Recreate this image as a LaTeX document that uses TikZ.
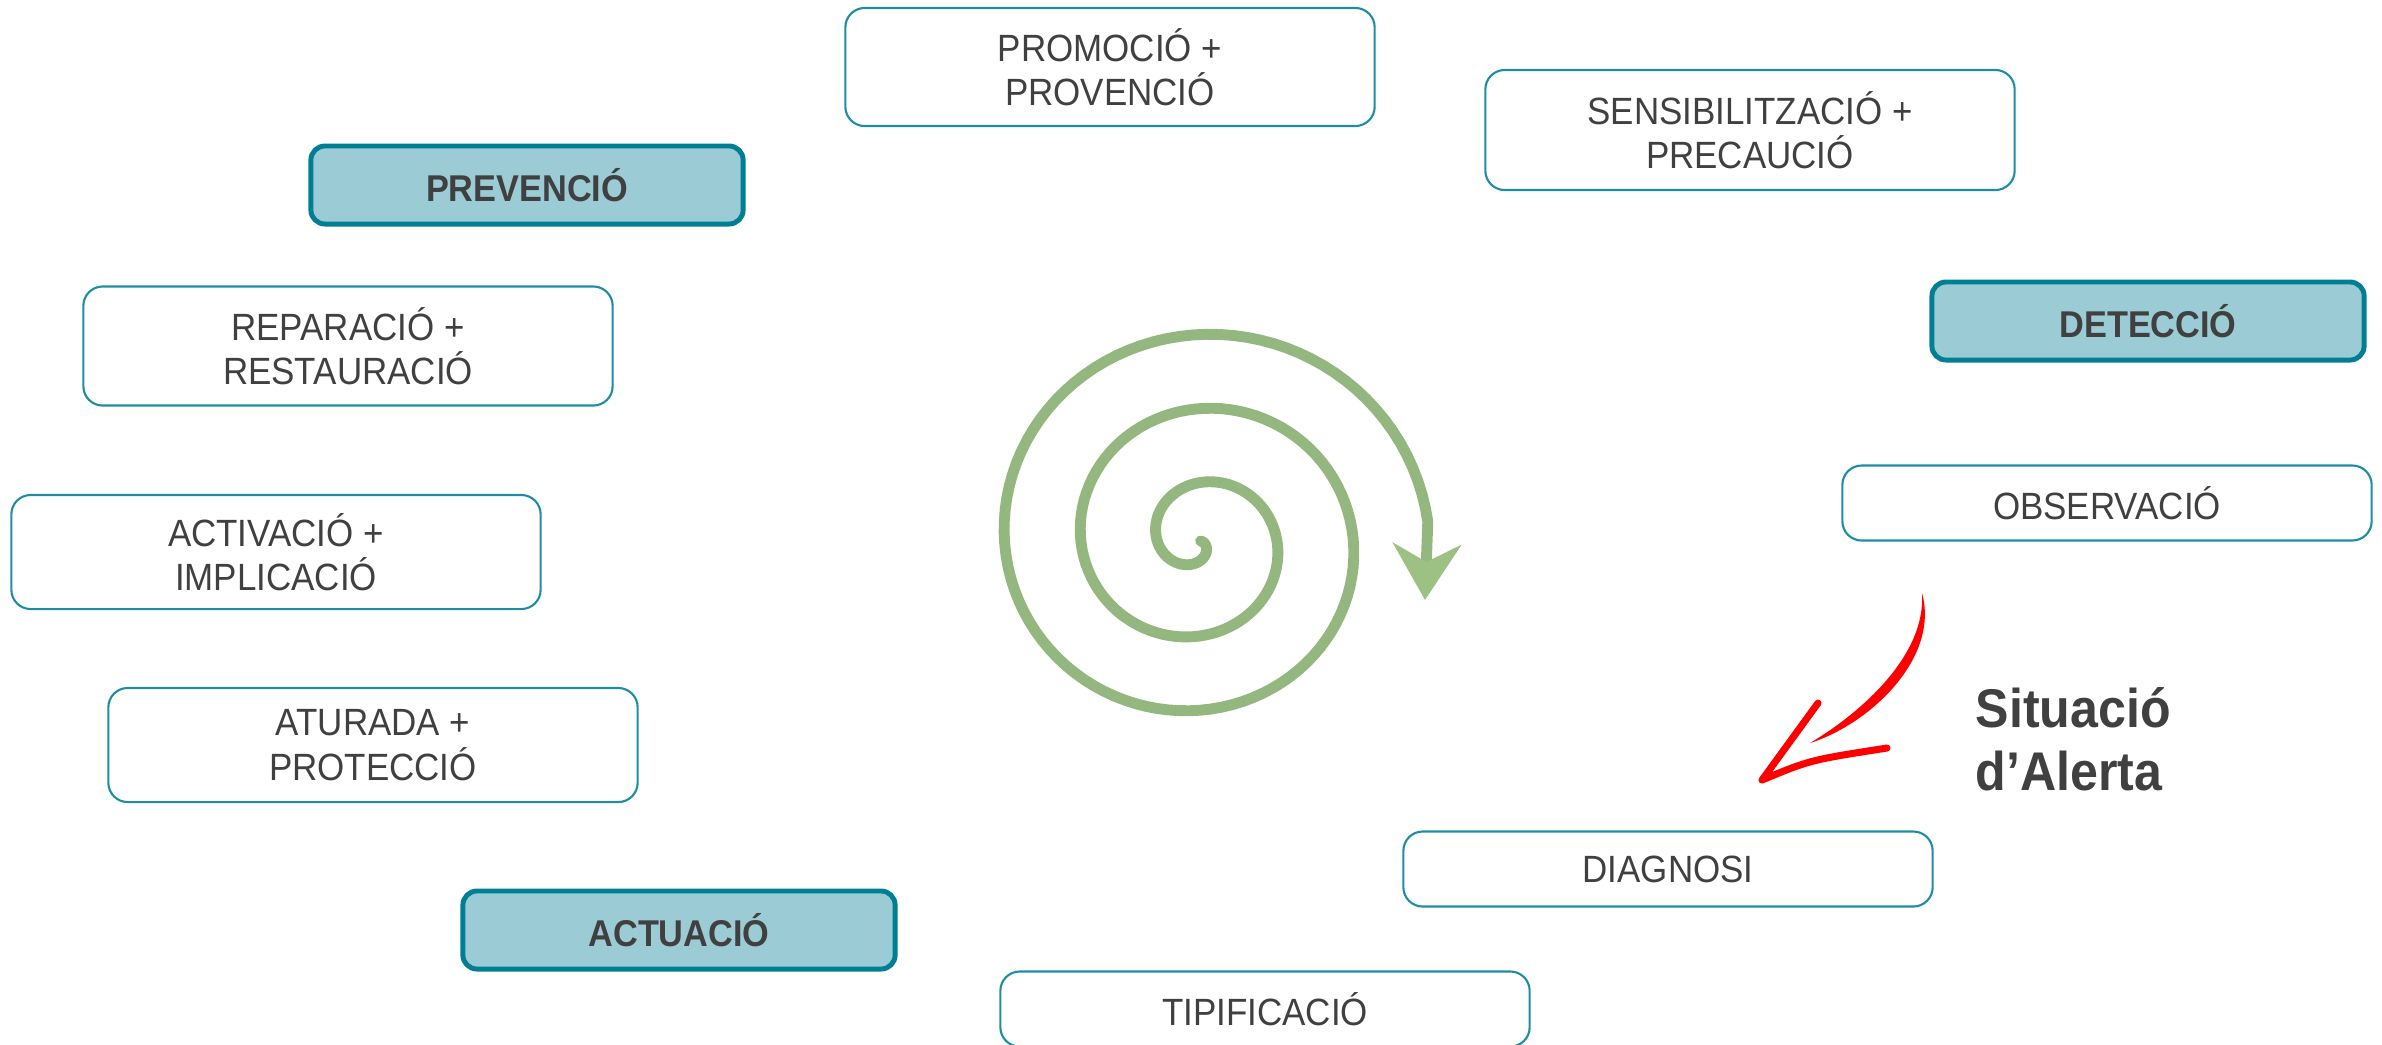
\documentclass[tikz,border=0pt]{standalone}
\usepackage{fontspec}
\setmainfont{Liberation Sans}[FakeStretch=0.92]
\usetikzlibrary{arrows.meta}

\definecolor{textgray}{RGB}{64,64,64}
\definecolor{boxline}{RGB}{30,140,165}
\definecolor{headfill}{RGB}{155,203,212}
\definecolor{headline}{RGB}{0,126,148}
\definecolor{spiralgreen}{RGB}{147,183,127}
\definecolor{tipgreen}{RGB}{157,193,131}
\definecolor{alertred}{RGB}{255,0,0}

\begin{document}
\begin{tikzpicture}[x=0.01cm,y=-0.01cm,
    every node/.style={text=textgray,font=\fontsize{10.8}{12.6}\selectfont},
    stage/.style={draw=boxline,line width=0.6pt,rounded corners=5.5pt,minimum width=5.29cm,align=center,inner sep=0pt},
    phase/.style={draw=headline,fill=headfill,line width=1.4pt,rounded corners=4pt,minimum width=4.32cm,minimum height=0.78cm,font=\fontsize{10.6}{12.6}\selectfont\bfseries}]

    \useasboundingbox (0,0) rectangle (2382,1044);

    \node[phase] (PREVENCIO) at (527,185) {PREVENCIÓ};
    \node[phase] (DETECCIO) at (2148,321) {DETECCIÓ};
    \node[phase] (ACTUACIO) at (679,930) {ACTUACIÓ};

    \foreach \p/\h/\n/\t in {{1110,67}/1.18/PROMOCIO/{PROMOCIÓ +\\PROVENCIÓ},
                             {1750,130}/1.2/SENSIBILITZACIO/{SENSIBILITZACIÓ +\\PRECAUCIÓ},
                             {348,346}/1.19/REPARACIO/{REPARACIÓ +\\RESTAURACIÓ},
                             {276,552}/1.14/ACTIVACIO/{ACTIVACIÓ +\\IMPLICACIÓ},
                             {373,745}/1.14/ATURADA/{ATURADA +\\PROTECCIÓ},
                             {2107,503}/0.75/OBSERVACIO/OBSERVACIÓ,
                             {1668,869}/0.75/DIAGNOSI/DIAGNOSI,
                             {1265,1009}/0.75/TIPIFICACIO/TIPIFICACIÓ} {
      \node[stage,minimum height=\h cm] (\n) at (\p) {\t};
    }

    % espiral
    \draw[spiralgreen,line width=3.1pt,line cap=round,-{Stealth[length=5.6mm,width=6.8mm,inset=1.8mm,color=tipgreen]}]
      plot[domain=0:1075,samples=300,variable=\t] ({1198+1.03*(2.5+0.206*\t)*cos(\t)},{541+(2.5+0.206*\t)*sin(\t)}) -- (1425,600);

    % fletxa d'alerta
    \coordinate (TAIL) at (1922,593);
    \coordinate (SHAFT) at (1810,743);
    \coordinate (TIP) at (1762,780);
    \coordinate (BARBUP) at (1818,703);
    \coordinate (BARBLOW) at (1887,748);
    \fill[alertred] (TAIL) .. controls (1926,655) and (1862,712) .. (SHAFT) .. controls (1870,724) and (1940,658) .. (TAIL) -- cycle;
    \draw[alertred,line width=2pt,line cap=round,line join=round] (BARBUP) -- (TIP) .. controls (1810,760) .. (BARBLOW);

    \node[font=\fontsize{15.5}{18}\selectfont\bfseries,align=left,anchor=west,inner sep=0pt] (ALERTA) at (1975,739) {Situació\\d’Alerta};
\end{tikzpicture}
\end{document}
